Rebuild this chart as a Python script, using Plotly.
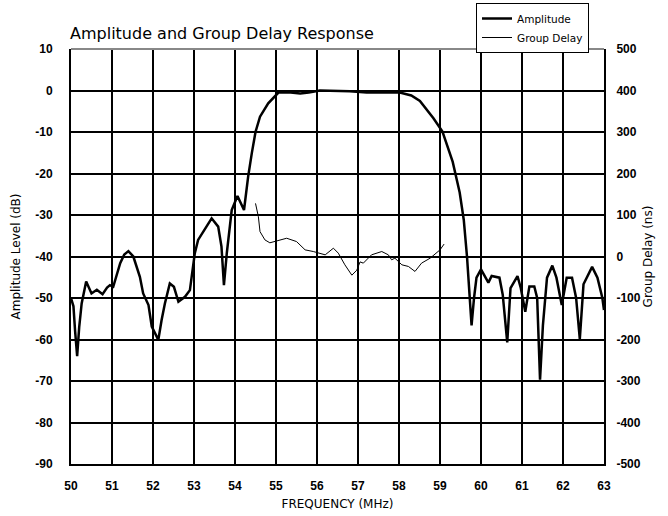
import plotly.graph_objects as go

# Amplitude response (MHz, dB)
amp_freq = [50.0, 50.06, 50.1, 50.15, 50.2, 50.26, 50.37, 50.5, 50.63, 50.77,
            50.88, 50.95, 51.03, 51.2, 51.3, 51.4, 51.52, 51.68, 51.76, 51.89,
            51.97, 52.05, 52.13, 52.21, 52.29, 52.41, 52.51, 52.62, 52.78, 52.9,
            53.02, 53.1, 53.23, 53.43, 53.59, 53.67, 53.73, 53.8, 53.92, 54.06,
            54.22, 54.32, 54.41, 54.5, 54.61, 54.81, 55.06, 55.3, 55.59, 55.8,
            56.07, 56.48, 56.8, 57.21, 57.6, 58.02, 58.3, 58.51, 58.84, 59.06,
            59.31, 59.48, 59.58, 59.66, 59.72, 59.77, 59.83, 59.89, 60.0, 60.08,
            60.18, 60.26, 60.45, 60.53, 60.64, 60.72, 60.89, 60.97, 61.08, 61.18,
            61.3, 61.37, 61.44, 61.51, 61.61, 61.74, 61.84, 61.97, 62.09, 62.22,
            62.32, 62.41, 62.5, 62.71, 62.84, 62.96, 63.0]
amp_db = [-50, -52, -58, -64, -57, -51.3, -46, -48.9, -48, -49.1,
          -47.5, -46.9, -47.3, -41.6, -39.5, -38.7, -40, -44.9, -48.9, -51.7,
          -56.9, -58.5, -60.1, -55.3, -51.3, -46.5, -47.3, -50.9, -49.7, -48.1,
          -39.2, -36, -34, -30.8, -32.8, -37.6, -46.9, -39.2, -28.8, -25.4,
          -28.8, -20.8, -15.1, -10, -6.3, -3.1, -0.5, -0.4, -0.7, -0.5,
          0, -0.05, -0.2, -0.5, -0.4, -0.5, -1.2, -2.5, -6.7, -9.9,
          -17.2, -24.6, -31.2, -40.2, -48.4, -56.6, -50, -45.1, -43.1, -44.7,
          -46.3, -44.7, -45.1, -49.2, -60.7, -47.6, -44.7, -47.6, -53.3, -47.2,
          -47.2, -50, -69.7, -56.6, -45.1, -42.2, -45.1, -51.7, -45.1, -45.1,
          -50, -59.9, -46.7, -42.5, -45.1, -50, -52.9]

# Group delay (MHz, ns)
gd_freq = [54.5, 54.57, 54.61, 54.73, 54.85, 55.1, 55.26, 55.5, 55.71, 55.91,
           56.03, 56.2, 56.4, 56.52, 56.68, 56.85, 56.97, 57.05, 57.13, 57.33,
           57.58, 57.74, 57.82, 57.9, 58.07, 58.23, 58.39, 58.55, 58.76, 59.0, 59.1]
gd_ns = [128, 96, 60, 40, 33, 40, 44, 36, 16, 12,
         8, 4, 20, 8, -20, -45, -33, -13, -16, 4,
         12, 4, -8, -4, -20, -24, -36, -16, -4, 16, 30]

x_ticks = list(range(50, 64))
y_ticks = list(range(-90, 11, 10))
y2_ticks = list(range(-500, 501, 100))

tick_font = dict(family="Liberation Sans", size=12, color="black", weight="bold")
label_font = dict(family="DejaVu Sans", size=12, color="black")

fig = go.Figure()
fig.add_trace(go.Scatter(x=amp_freq, y=amp_db, mode="lines", name="Amplitude",
                         line=dict(color="black", width=2.5), yaxis="y"))
fig.add_trace(go.Scatter(x=gd_freq, y=gd_ns, mode="lines", name="Group Delay",
                         line=dict(color="black", width=1), yaxis="y2"))

fig.update_layout(
    width=668, height=516,
    margin=dict(l=71, r=64, t=49, b=52, autoexpand=False),
    paper_bgcolor="white", plot_bgcolor="white",
    title=dict(text="Amplitude and Group Delay Response", x=70/668, xanchor="left",
               y=1-33/516, yanchor="middle",
               font=dict(family="DejaVu Sans", size=16, color="black")),
    xaxis=dict(range=[50, 63], tickvals=x_ticks, ticktext=[str(v) for v in x_ticks],
               showgrid=True, gridcolor="black", gridwidth=2, zeroline=False,
               showline=True, linecolor="black", linewidth=2, ticks="",
               tickfont=tick_font, ticklabelstandoff=10,
               title=dict(text="FREQUENCY (MHz)", font=label_font, standoff=7)),
    yaxis=dict(range=[-90, 10], tickvals=y_ticks, ticktext=[str(v) for v in y_ticks],
               showgrid=True, gridcolor="black", gridwidth=2, zeroline=False,
               showline=True, linecolor="black", linewidth=2, ticks="",
               tickfont=tick_font, ticklabelstandoff=14,
               title=dict(text="Amplitude Level (dB)", font=label_font, standoff=12)),
    yaxis2=dict(range=[-500, 500], tickvals=y2_ticks, ticktext=[str(v) for v in y2_ticks],
                overlaying="y", side="right", showgrid=False, zeroline=False,
                showline=True, linecolor="black", linewidth=2, ticks="",
                tickfont=tick_font, ticklabelstandoff=8,
                title=dict(text="Group Delay (ns)", font=label_font, standoff=4)),
    showlegend=True,
    legend=dict(x=(476-71)/533, xanchor="left", y=1+(49-3)/415, yanchor="top",
                bgcolor="white", bordercolor="black", borderwidth=1,
                font=dict(family="DejaVu Sans", size=10.5, color="black"),
                tracegroupgap=0, itemwidth=30),
    shapes=[dict(type="line", xref="paper", yref="paper", x0=0, x1=1, y0=1, y1=1,
                 line=dict(color="#888888", width=2), layer="above")],
)

fig.write_html("out.html", config={"displayModeBar": False},
               post_script="document.body.style.margin='0';document.body.style.overflow='hidden';")
